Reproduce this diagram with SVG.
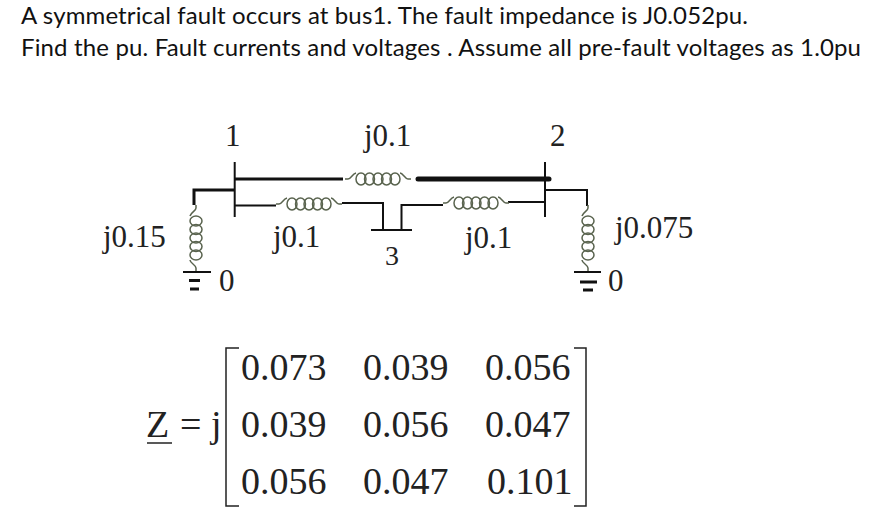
<svg xmlns="http://www.w3.org/2000/svg" width="884" height="514" viewBox="0 0 884 514">
<style>
.h{font:24px Lato,"Open Sans",sans-serif;fill:#111}
.l{font:31px "Liberation Serif",serif;fill:#222}
.m{font:38px "Liberation Serif",serif;fill:#222}
.w{fill:none;stroke:#111;stroke-width:2;stroke-linecap:butt}
.c{fill:none;stroke:#59634e;stroke-width:1.5}
</style>
<defs>
<g id="coil" class="c">
<path d="M0,0H3C6,0 7,-5 11,-6M55,-6C58,-6 60,0 63,0H66"/>
<ellipse cx="16" cy="0" rx="5" ry="6"/>
<ellipse cx="24.500" cy="0" rx="5" ry="6"/>
<ellipse cx="33" cy="0" rx="5" ry="6"/>
<ellipse cx="41.500" cy="0" rx="5" ry="6"/>
<ellipse cx="50" cy="0" rx="5" ry="6"/>
</g>
</defs>
<rect width="884" height="514" fill="#fff"/>
<g id="title">
<text class="h" x="21" y="24" textLength="727">A symmetrical fault occurs at bus1. The fault impedance is J0.052pu.</text>
<text class="h" x="21" y="56" textLength="840">Find the pu. Fault currents and voltages . Assume all pre-fault voltages as 1.0pu</text>
</g>
<g id="connectors">
<path class="w" d="M235,179H343" style="stroke-width:3"/>
<path class="w" d="M418,179H549" style="stroke-width:5;stroke-linecap:round"/>
<path class="w" d="M235,190H194V205" style="stroke-width:3"/>
<path class="w" d="M235,205.500H276"/>
<path class="w" d="M342,203H383V230"/>
<path class="w" d="M401.500,230V205H443"/>
<path class="w" d="M508,202H545"/>
<path class="w" d="M545,190H587V206"/>
<use href="#coil" transform="translate(345,179)"/>
<use href="#coil" transform="translate(276,204)"/>
<use href="#coil" transform="translate(443,203)"/>
<use href="#coil" transform="translate(196,205) rotate(90) scale(1,-1)"/>
<use href="#coil" transform="translate(588,205) rotate(90) scale(1,-1)"/>
</g>
<g id="bus1"><path class="w" d="M234.700,162V217"/><text class="l" x="225" y="146">1</text></g>
<g id="bus2"><path class="w" d="M545,162V217"/><text class="l" x="550" y="146">2</text></g>
<g id="bus3"><path class="w" d="M371,230H412"/><text class="l" x="385" y="265" style="font-size:28px">3</text></g>
<g id="ground-left">
<path class="w" d="M183,272H211"/><path class="w" d="M189,280.500H200M190,289H199" style="stroke-width:3"/>
<text class="l" x="219" y="291">0</text>
</g>
<g id="ground-right">
<path class="w" d="M574,272H601"/><path class="w" d="M580,282H597M583,290H593" style="stroke-width:3"/>
<text class="l" x="608" y="291">0</text>
</g>
<g id="labels">
<text class="l" x="364" y="146">j0.1</text>
<text class="l" x="103" y="247">j0.15</text>
<text class="l" x="273" y="247">j0.1</text>
<text class="l" x="465" y="248">j0.1</text>
<text class="l" x="615" y="238">j0.075</text>
</g>
<g id="matrix">
<text class="m" x="146" y="437" font-style="italic">Z</text>
<path d="M147,443H172" stroke="#222" stroke-width="1.500"/>
<text class="m" x="180" y="437" xml:space="preserve">= j</text>
<path class="w" d="M239,348H226V506H239M574,348H586V506H574" style="stroke:#222;stroke-width:1.500"/>
<text class="m" x="241" y="380">0.073</text><text class="m" x="363" y="380">0.039</text><text class="m" x="485" y="380">0.056</text>
<text class="m" x="241" y="437">0.039</text><text class="m" x="363" y="437">0.056</text><text class="m" x="485" y="437">0.047</text>
<text class="m" x="241" y="494">0.056</text><text class="m" x="363" y="494">0.047</text><text class="m" x="487" y="494">0.101</text>
</g>
</svg>
